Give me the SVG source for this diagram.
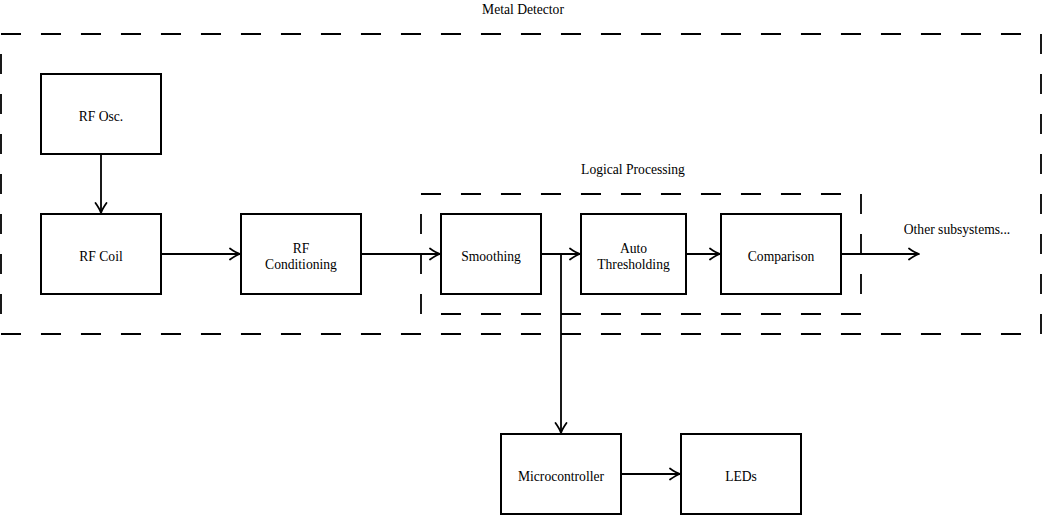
<svg xmlns="http://www.w3.org/2000/svg" width="1042" height="515" viewBox="0 0 1042 515">
<style>
  .box{fill:#fff;stroke:#000;stroke-width:2}
  .grp{fill:none;stroke:#000;stroke-width:1.8;stroke-dasharray:20 20}
  .lbl{font-family:"Liberation Serif","Times New Roman",serif;font-size:13.6px;fill:#000;text-anchor:middle}
  .con{fill:none;stroke:#000;stroke-width:1.8}
</style>
<defs>
  <marker id="arr" viewBox="-12 -7 14 14" markerWidth="14" markerHeight="14" refX="0" refY="0" orient="auto" markerUnits="userSpaceOnUse">
    <path d="M-10,-5.5 Q-4,-1.2 0,0 Q-4,1.2 -10,5.5" fill="none" stroke="#000" stroke-width="1.8" stroke-linecap="round" stroke-linejoin="round"/>
  </marker>
</defs>
<rect width="1042" height="515" fill="#fff"/>

<g id="metal-detector">
  <rect class="grp" x="1" y="34" width="1040" height="300"/>
  <text class="lbl" x="523" y="14">Metal Detector</text>
</g>
<g id="logical-processing">
  <rect class="grp" x="421" y="194" width="440" height="120"/>
  <text class="lbl" x="633" y="174">Logical Processing</text>
</g>

<g id="connectors">
  <line class="con" x1="101" y1="154" x2="101" y2="213" marker-end="url(#arr)"/>
  <line class="con" x1="161" y1="254" x2="240" y2="254" marker-end="url(#arr)"/>
  <line class="con" x1="361" y1="254" x2="440" y2="254" marker-end="url(#arr)"/>
  <line class="con" x1="541" y1="254" x2="580" y2="254" marker-end="url(#arr)"/>
  <line class="con" x1="686" y1="254" x2="720" y2="254" marker-end="url(#arr)"/>
  <line class="con" x1="841" y1="254" x2="919" y2="254" marker-end="url(#arr)"/>
  <line class="con" x1="561" y1="254" x2="561" y2="433" marker-end="url(#arr)"/>
  <line class="con" x1="621" y1="474" x2="680" y2="474" marker-end="url(#arr)"/>
</g>

<g id="rf-osc">
  <rect class="box" x="41" y="74" width="120" height="80"/>
  <text class="lbl" x="101" y="121">RF Osc.</text>
</g>
<g id="rf-coil">
  <rect class="box" x="41" y="214" width="120" height="80"/>
  <text class="lbl" x="101" y="261">RF Coil</text>
</g>
<g id="rf-conditioning">
  <rect class="box" x="241" y="214" width="120" height="80"/>
  <text class="lbl" x="301" y="253">RF</text>
  <text class="lbl" x="301" y="269">Conditioning</text>
</g>
<g id="smoothing">
  <rect class="box" x="441" y="214" width="100" height="80"/>
  <text class="lbl" x="491" y="261">Smoothing</text>
</g>
<g id="auto-thresholding">
  <rect class="box" x="581" y="214" width="105" height="80"/>
  <text class="lbl" x="633.5" y="253">Auto</text>
  <text class="lbl" x="633.5" y="269">Thresholding</text>
</g>
<g id="comparison">
  <rect class="box" x="721" y="214" width="120" height="80"/>
  <text class="lbl" x="781" y="261">Comparison</text>
</g>
<g id="other-subsystems">
  <text class="lbl" x="957" y="234">Other subsystems...</text>
</g>
<g id="microcontroller">
  <rect class="box" x="501" y="434" width="120" height="80"/>
  <text class="lbl" x="561" y="481">Microcontroller</text>
</g>
<g id="leds">
  <rect class="box" x="681" y="434" width="120" height="80"/>
  <text class="lbl" x="741" y="481">LEDs</text>
</g>
</svg>
